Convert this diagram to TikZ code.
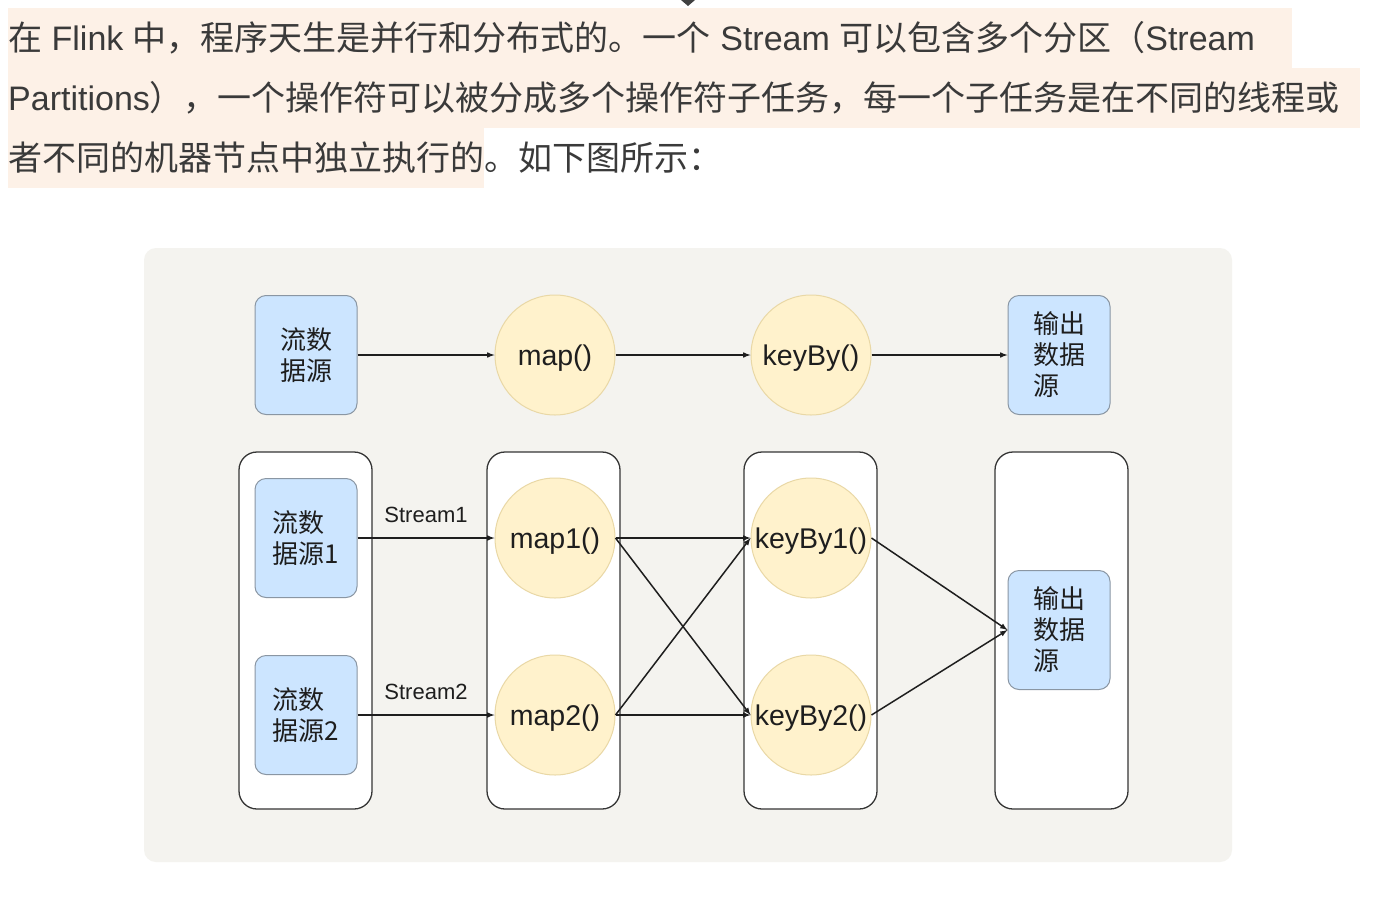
\documentclass[tikz,border=0pt]{standalone}
\usepackage{fontspec}
\setmainfont{Liberation Sans}
\newfontfamily\cjk{Noto Sans CJK SC}
\newcommand{\zhtext}[1]{{\cjk #1}}

\definecolor{TextGray}{HTML}{3A3A3A}
\definecolor{MarkPeach}{HTML}{FDF1E7}
\definecolor{PanelGray}{HTML}{F4F3EF}
\definecolor{BoxBlue}{HTML}{CCE5FF}
\definecolor{BoxLine}{HTML}{8A96A3}
\definecolor{OpYellow}{HTML}{FFF2CC}
\definecolor{OpLine}{HTML}{E9D8A6}
\definecolor{LineDark}{HTML}{1E1E1E}

\begin{document}
\begin{tikzpicture}[x=1pt,y=-1pt,
    headline/.style={anchor=base west, inner sep=0pt, text=TextGray, font=\fontsize{34}{40}\selectfont},
    srcbox/.style={draw=BoxLine, fill=BoxBlue, line width=1pt, rounded corners=11pt,
        minimum width=102pt, minimum height=119pt, align=left, text=LineDark,
        font=\cjk\fontsize{26}{31}\selectfont},
    opnode/.style={circle, draw=OpLine, fill=OpYellow, line width=1pt, minimum size=120pt,
        inner sep=0pt, text height=20.8pt, text depth=0.8pt, text=LineDark,
        font=\fontsize{28.5}{32}\selectfont},
    group/.style={draw=LineDark!90, fill=white, line width=1.3pt, rounded corners=18pt,
        minimum width=133pt, minimum height=357pt},
    flow/.style={-latex, line width=1.5pt, draw=LineDark},
    streamlabel/.style={text=LineDark, font=\fontsize{22}{26}\selectfont}
]
    \useasboundingbox (0,0) rectangle (1380,910);
    \fill[white] (0,0) rectangle (1380,910);

    % text above the figure
    \fill[MarkPeach] (8,8) rectangle (1292,68);
    \fill[MarkPeach] (8,68) rectangle (1360,128);
    \fill[MarkPeach] (8,128) rectangle (484,188);
    \fill[LineDark!85] (681,0) -- (695,0) -- (688,6) -- cycle;
    \node[headline] (line1) at (8,50) {\zhtext{在} Flink \zhtext{中，程序天生是并行和分布式的。一个} Stream \zhtext{可以包含多个分区（}Stream};
    \node[headline] (line2) at (8,110) {Partitions\zhtext{），一个操作符可以被分成多个操作符子任务，每一个子任务是在不同的线程或}};
    \node[headline] (line3) at (8,170) {\zhtext{者不同的机器节点中独立执行的。如下图所示：}};

    % figure panel
    \fill[PanelGray, rounded corners=12pt] (144,248) rectangle (1232,862);

    % logical view
    \node[srcbox] (src) at (306,355) {流数\\据源};
    \node[opnode] (map) at (555,355) {map()};
    \node[opnode] (keyby) at (811,355) {keyBy()};
    \node[srcbox] (sink) at (1059,355) {输出\\数据\\源};
    \draw[flow] (src) -- (map);
    \draw[flow] (map) -- (keyby);
    \draw[flow] (keyby) -- (sink);

    % parallel view
    \node[group] (grpsrc) at (305.5,630.5) {};
    \node[group] (grpmap) at (553.5,630.5) {};
    \node[group] (grpkey) at (810.5,630.5) {};
    \node[group] (grpsink) at (1061.5,630.5) {};

    \node[srcbox] (src1) at (306,538) {流数\\据源1};
    \node[srcbox] (src2) at (306,715) {流数\\据源2};
    \node[opnode] (map1) at (555,538) {map1()};
    \node[opnode] (map2) at (555,715) {map2()};
    \node[opnode] (keyby1) at (811,538) {keyBy1()};
    \node[opnode] (keyby2) at (811,715) {keyBy2()};
    \node[srcbox] (sink2) at (1059,630) {输出\\数据\\源};

    \draw[flow] (src1) -- (map1) node[midway, above=11pt, streamlabel] (lbl1) {Stream1};
    \draw[flow] (src2) -- (map2) node[midway, above=11pt, streamlabel] (lbl2) {Stream2};
    \draw[flow] (map1) -- (keyby1);
    \draw[flow] (map1.east) -- (keyby2.west);
    \draw[flow] (map2.east) -- (keyby1.west);
    \draw[flow] (map2) -- (keyby2);
    \draw[flow] (keyby1.east) -- (sink2.west);
    \draw[flow] (keyby2.east) -- (sink2.west);
\end{tikzpicture}
\end{document}
